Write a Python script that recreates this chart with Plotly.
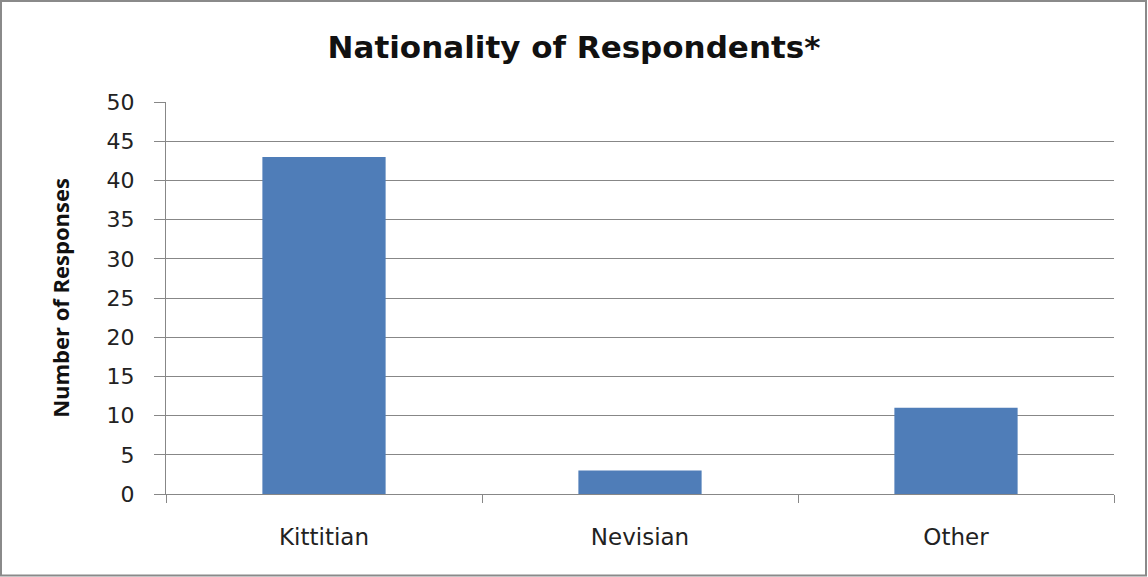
import plotly.graph_objects as go

# Survey responses by nationality
categories = ["Kittitian", "Nevisian", "Other"]
responses = [43, 3, 11]
y_ticks = list(range(0, 51, 5))

W, H = 1148, 577
ML, MR, MT, MB = 166, 34, 102, 83
PW, PH = W - ML - MR, H - MT - MB

def px_to_paper_x(px):
    return (px - ML) / PW

def px_to_paper_y(py):
    return (H - MB - py) / PH

grey = "#878787"

fig = go.Figure(
    go.Bar(
        x=categories,
        y=responses,
        marker=dict(color="#4F7DB8", line=dict(width=0)),
        width=0.39,
        hoverinfo="x+y",
    )
)

fig.update_layout(
    width=W,
    height=H,
    margin=dict(l=ML, r=MR, t=MT, b=MB),
    paper_bgcolor="white",
    plot_bgcolor="white",
    showlegend=False,
    title=dict(
        text="<b>Nationality of Respondents*</b>",
        font=dict(family="DejaVu Sans", size=31, color="#111111"),
        x=0.5,
        xanchor="center",
        xref="container",
        y=1 - 47 / H,
        yanchor="middle",
    ),
    shapes=[
        dict(
            type="rect",
            xref="paper",
            yref="paper",
            x0=px_to_paper_x(1),
            x1=px_to_paper_x(W - 2),
            y0=px_to_paper_y(H - 1.5),
            y1=px_to_paper_y(1),
            line=dict(color="#8a8a8a", width=2),
            fillcolor="rgba(0,0,0,0)",
            layer="below",
        )
    ],
)

fig.update_xaxes(
    type="category",
    tickson="boundaries",
    ticks="outside",
    ticklen=8,
    tickcolor=grey,
    tickwidth=1,
    showgrid=False,
    showline=True,
    linecolor=grey,
    linewidth=1,
    ticklabelstandoff=22,
    tickfont=dict(family="DejaVu Sans", size=23, color="#222222"),
)

fig.update_yaxes(
    range=[0, 50],
    tickvals=y_ticks,
    ticks="outside",
    ticklen=11,
    tickcolor=grey,
    tickwidth=1,
    showgrid=True,
    gridcolor=grey,
    gridwidth=1,
    showline=True,
    linecolor=grey,
    linewidth=1,
    zeroline=False,
    ticklabelstandoff=15,
    tickfont=dict(family="DejaVu Sans", size=22, color="#222222"),
    title=dict(
        text="<b>Number of Responses</b>",
        font=dict(family="Open Sans", size=22, color="#111111"),
        standoff=30,
    ),
)

fig.write_html("out.html")
